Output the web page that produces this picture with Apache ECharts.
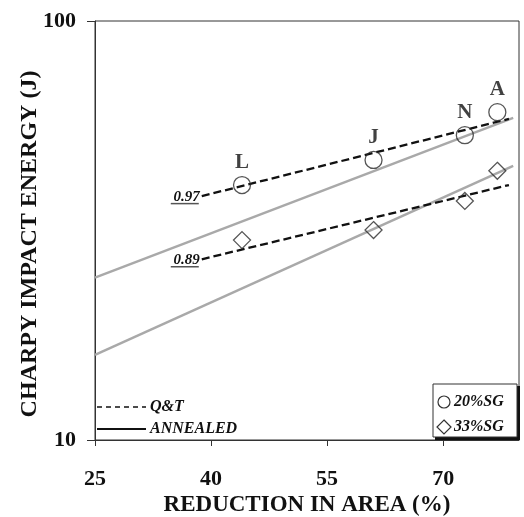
<!DOCTYPE html>
<html>
<head>
<meta charset="utf-8">
<script src="https://cdn.jsdelivr.net/npm/echarts@6/dist/echarts.min.js"></script>
<style>
html,body{margin:0;padding:0;background:#fff;}
#chart{width:524px;height:517px;}
</style>
</head>
<body>
<div id="chart"></div>
<script>
// ---- data ----
const steelLabels = ['L', 'J', 'N', 'A'];
const reductionInArea = [44.0, 61.0, 72.8, 77.0];
const sg20Energy = [40.6, 46.6, 53.4, 60.6];
const sg33Energy = [30.0, 31.7, 37.2, 43.9];
const qtFitX = [38.8, 78.5];
const qt20Fit = [38.2, 58.4];
const qt33Fit = [27.0, 40.6];
const annealFitX = [25, 79.05];
const ann20Fit = [24.4, 58.7];
const ann33Fit = [15.96, 45.1];
const xTicks = [25, 40, 55, 70];
const fitLabels = ['0.97', '0.89'];

const SERIF = '"Liberation Serif", "Times New Roman", serif';
const pairs = (xs, ys) => xs.map((x, i) => [x, ys[i]]);

const chart = echarts.init(document.getElementById('chart'), null, {renderer: 'canvas'});

const markerStyle = {color: 'rgba(0,0,0,0)', borderColor: '#2a2a2a', borderWidth: 1.3};
const grayLine = {color: '#a9a9a9', width: 2.5, type: 'solid'};
const dashLine = {color: '#111', width: 2.3, type: [8, 4]};

const option = {
  animation: false,
  backgroundColor: '#fff',
  grid: {left: 95, right: 5, top: 21, bottom: 77, containLabel: false, outerBoundsMode: 'none',
    show: true, borderColor: '#333', borderWidth: 1},
  xAxis: {
    type: 'value', min: 25, max: 79.8,
    axisLine: {show: true, lineStyle: {color: '#333', width: 1}},
    axisTick: {show: true, length: 6, lineStyle: {color: '#333'}, customValues: xTicks},
    axisLabel: {customValues: xTicks, margin: 28, fontFamily: SERIF, fontWeight: 'bold', fontSize: 22, color: '#111'},
    splitLine: {show: false},
    name: 'REDUCTION IN AREA (%)', nameLocation: 'middle', nameGap: 54, nameMoveOverlap: false,
    nameTextStyle: {fontFamily: SERIF, fontWeight: 'bold', fontSize: 23, color: '#111'}
  },
  yAxis: {
    type: 'log', logBase: 10, min: 10, max: 100,
    axisLine: {show: true, lineStyle: {color: '#333', width: 1}},
    axisTick: {show: true, length: 8, lineStyle: {color: '#333'}},
    minorTick: {show: false},
    axisLabel: {margin: 19, fontFamily: SERIF, fontWeight: 'bold', fontSize: 22, color: '#111'},
    splitLine: {show: false},
    name: 'CHARPY IMPACT ENERGY (J)', nameLocation: 'middle', nameGap: 53, nameMoveOverlap: false,
    nameTextStyle: {fontFamily: SERIF, fontWeight: 'bold', fontSize: 24, color: '#111', padding: [0, 27, 0, 0]}
  },
  series: [
    {name: 'ANNEALED 20%SG', type: 'line', data: pairs(annealFitX, ann20Fit), showSymbol: false, symbol: 'none', lineStyle: grayLine, z: 2},
    {name: 'ANNEALED 33%SG', type: 'line', data: pairs(annealFitX, ann33Fit), showSymbol: false, symbol: 'none', lineStyle: grayLine, z: 2},
    {name: 'Q&T 20%SG', type: 'line', data: pairs(qtFitX, qt20Fit), showSymbol: false, symbol: 'none', lineStyle: dashLine, z: 3},
    {name: 'Q&T 33%SG', type: 'line', data: pairs(qtFitX, qt33Fit), showSymbol: false, symbol: 'none', lineStyle: dashLine, z: 3},
    {
      name: '20%SG', type: 'scatter', symbol: 'circle', symbolSize: 17,
      data: reductionInArea.map((x, i) => ({value: [x, sg20Energy[i]], name: steelLabels[i]})),
      itemStyle: markerStyle, z: 4,
      label: {show: true, position: 'top', distance: 3, formatter: p => p.name,
        fontFamily: SERIF, fontWeight: 'bold', fontSize: 21, color: '#111'}
    },
    {
      name: '33%SG', type: 'scatter', symbol: 'diamond', symbolSize: 17,
      data: pairs(reductionInArea, sg33Energy),
      itemStyle: markerStyle, z: 4
    }
  ]
};
chart.setOption(option);

// fit-quality labels at the start of the Q&T lines
const p97 = chart.convertToPixel({gridIndex: 0}, [qtFitX[0], qt20Fit[0]]);
const p89 = chart.convertToPixel({gridIndex: 0}, [qtFitX[0], qt33Fit[0]]);
const fitText = (p, t) => ([
  {type: 'text', x: p[0] - 2, y: p[1] + 1, style: {text: t, align: 'right', verticalAlign: 'middle',
    font: 'italic bold 15px ' + SERIF, fill: '#111'}},
  {type: 'line', shape: {x1: p[0] - 31, y1: p[1] + 7.5, x2: p[0] - 3, y2: p[1] + 7.5}, style: {stroke: '#555', lineWidth: 1.5}}
]);

const legendFont = 'italic bold 16px ' + SERIF;
chart.setOption({
  graphic: [
    ...fitText(p97, fitLabels[0]),
    ...fitText(p89, fitLabels[1]),
    // line-type legend (bottom left)
    {type: 'line', shape: {x1: 97, y1: 407, x2: 146, y2: 407}, style: {stroke: '#111', lineWidth: 1.6, lineDash: [5, 4]}},
    {type: 'text', x: 150, y: 407, style: {text: 'Q&T', verticalAlign: 'middle', font: legendFont, fill: '#111'}},
    {type: 'line', shape: {x1: 97, y1: 429, x2: 146, y2: 429}, style: {stroke: '#111', lineWidth: 1.8}},
    {type: 'text', x: 150, y: 429, style: {text: 'ANNEALED', verticalAlign: 'middle', font: legendFont, fill: '#111'}},
    // marker legend box (bottom right) with shadow
    {type: 'rect', shape: {x: 435, y: 386, width: 85, height: 54}, style: {fill: '#111'}, z: 10},
    {type: 'rect', shape: {x: 433, y: 384, width: 84, height: 53}, style: {fill: '#fff', stroke: '#333', lineWidth: 1}, z: 11},
    {type: 'circle', shape: {cx: 444, cy: 402, r: 6}, style: {fill: 'none', stroke: '#333', lineWidth: 1.2}, z: 12},
    {type: 'text', x: 454, y: 402, style: {text: '20%SG', verticalAlign: 'middle', font: legendFont, fill: '#111'}, z: 12},
    {type: 'polygon', shape: {points: [[444, 420], [451, 427], [444, 434], [437, 427]]}, style: {fill: 'none', stroke: '#333', lineWidth: 1.2}, z: 12},
    {type: 'text', x: 454, y: 427, style: {text: '33%SG', verticalAlign: 'middle', font: legendFont, fill: '#111'}, z: 12}
  ]
});
</script>
</body>
</html>
